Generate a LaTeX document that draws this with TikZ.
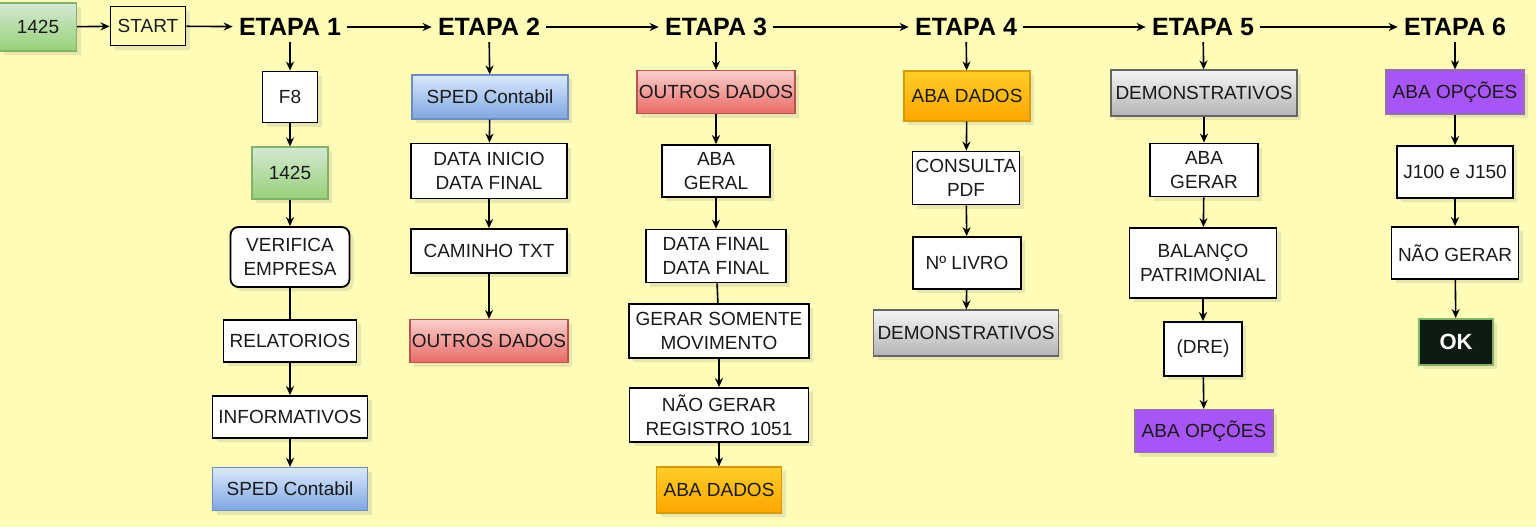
\documentclass[tikz,border=0pt]{standalone}
\usepackage{fontspec}
\setmainfont{Liberation Sans}
\usetikzlibrary{arrows.meta,shadows}
\definecolor{bg}{HTML}{FFFCB8}
\definecolor{txt}{HTML}{1A1A1A}
\definecolor{gtop}{HTML}{D5E8D4}\definecolor{gbot}{HTML}{97D077}\definecolor{gstr}{HTML}{82B366}
\definecolor{btop}{HTML}{DAE8FC}\definecolor{bbot}{HTML}{7EA6E0}\definecolor{bstr}{HTML}{6C8EBF}
\definecolor{rtop}{HTML}{F8CECC}\definecolor{rbot}{HTML}{EA6B66}\definecolor{rstr}{HTML}{B85450}
\definecolor{otop}{HTML}{FFCD28}\definecolor{obot}{HTML}{FFA500}\definecolor{ostr}{HTML}{D79B00}
\definecolor{stop}{HTML}{F5F5F5}\definecolor{sbot}{HTML}{B3B3B3}\definecolor{sstr}{HTML}{666666}
\definecolor{pfill}{HTML}{A855F7}\definecolor{pstr}{HTML}{9673A6}
\definecolor{okfill}{HTML}{0F1A12}
\tikzset{
  box/.style={draw=black, line width=0.9pt, fill=white, align=center, inner sep=1pt,
    font=\fontsize{9.5}{12}\selectfont, text=txt,
    drop shadow={opacity=0.18, shadow xshift=2pt, shadow yshift=-2pt}},
  plain/.style={box, fill=bg},
  gbox/.style={box, draw=gstr, line width=0.6pt, top color=gtop, bottom color=gbot},
  bbox/.style={box, draw=bstr, line width=0.6pt, top color=btop, bottom color=bbot},
  rbox/.style={box, draw=rstr, line width=0.6pt, top color=rtop, bottom color=rbot},
  obox/.style={box, draw=ostr, line width=0.6pt, top color=otop, bottom color=obot},
  sbox/.style={box, draw=sstr, line width=0.6pt, top color=stop, bottom color=sbot},
  pbox/.style={box, draw=pstr, line width=0.6pt, fill=pfill},
  okbox/.style={box, draw=gstr, line width=1pt, fill=okfill, text=white, font=\fontsize{11}{13}\selectfont\bfseries},
  etapa/.style={font=\fontsize{12.5}{15}\selectfont\bfseries, text=black, inner sep=3pt},
  arr/.style={draw=black, line width=0.8pt, -{Stealth[open,length=4.5pt,width=4pt]}},
  ln/.style={draw=black, line width=0.8pt}
}
\begin{document}
\begin{tikzpicture}[x=0.5pt,y=-0.5pt]
\fill[bg] (0,0) rectangle (1536,527);
\useasboundingbox (0,0) rectangle (1536,527);

% top row
\node[gbox, minimum width=38.5pt, minimum height=24pt] (g0) at (38,27) {1425};
\node[plain, minimum width=37.5pt, minimum height=19.5pt] (start) at (148,26) {START};
\node[etapa] (e1) at (290,27) {ETAPA 1};
\node[etapa] (e2) at (489,27) {ETAPA 2};
\node[etapa] (e3) at (716,27) {ETAPA 3};
\node[etapa] (e4) at (966,27) {ETAPA 4};
\node[etapa] (e5) at (1203,27) {ETAPA 5};
\node[etapa] (e6) at (1455,27) {ETAPA 6};

% column 1
\node[box, minimum width=27.5pt, minimum height=25.5pt] (f8) at (290,97) {F8};
\node[gbox, minimum width=38pt, minimum height=26pt] (g1) at (290,173) {1425};
\node[box, minimum width=59.5pt, minimum height=30pt, rounded corners=4pt] (ver) at (290,257) {VERIFICA\\EMPRESA};
\node[box, minimum width=66.5pt, minimum height=21pt] (rel) at (290,341) {RELATORIOS};
\node[box, minimum width=77.5pt, minimum height=21pt] (inf) at (290,417) {INFORMATIVOS};
\node[bbox, minimum width=77.5pt, minimum height=21.5pt] (sp1) at (290,489) {SPED Contabil};

% column 2
\node[bbox, minimum width=78pt, minimum height=22pt] (sp2) at (490,97) {SPED Contabil};
\node[box, minimum width=78pt, minimum height=27.5pt] (dat) at (489,171) {DATA INICIO\\DATA FINAL};
\node[box, minimum width=78pt, minimum height=22pt] (cam) at (489,251) {CAMINHO TXT};
\node[rbox, minimum width=78pt, minimum height=21.5pt] (out1) at (489,341) {OUTROS DADOS};

% column 3
\node[rbox, minimum width=78pt, minimum height=21.5pt] (out2) at (716,92) {OUTROS DADOS};
\node[box, minimum width=54pt, minimum height=26pt] (abag) at (716,171) {ABA\\GERAL};
\node[box, minimum width=70pt, minimum height=26.5pt] (dff) at (716,256) {DATA FINAL\\DATA FINAL};
\node[box, minimum width=90pt, minimum height=27pt] (ger) at (719,331) {GERAR SOMENTE\\MOVIMENTO};
\node[box, minimum width=89.5pt, minimum height=27pt] (nao1) at (719,415) {NÃO GERAR\\REGISTRO 1051};
\node[obox, minimum width=62.5pt, minimum height=23pt] (abd1) at (719,490) {ABA DADOS};

% column 4
\node[obox, minimum width=63pt, minimum height=25pt] (abd2) at (967,96) {ABA DADOS};
\node[box, minimum width=53.5pt, minimum height=26.5pt] (pdf) at (966,178) {CONSULTA\\PDF};
\node[box, minimum width=54pt, minimum height=26pt] (liv) at (967,263) {Nº LIVRO};
\node[sbox, minimum width=92.5pt, minimum height=23pt] (dem1) at (966,333) {DEMONSTRATIVOS};

% column 5
\node[sbox, minimum width=93pt, minimum height=23pt] (dem2) at (1204,93) {DEMONSTRATIVOS};
\node[box, minimum width=54pt, minimum height=26.5pt] (abge) at (1204,170) {ABA\\GERAR};
\node[box, minimum width=73.5pt, minimum height=35pt] (bal) at (1203,263) {BALANÇO\\PATRIMONIAL};
\node[box, minimum width=39pt, minimum height=27pt] (dre) at (1203,349) {(DRE)};
\node[pbox, minimum width=69pt, minimum height=21.5pt] (op1) at (1204,431) {ABA OPÇÕES};

% column 6
\node[pbox, minimum width=69pt, minimum height=22pt] (op2) at (1455,92) {ABA OPÇÕES};
\node[box, minimum width=58pt, minimum height=26pt] (jj) at (1455,172) {J100 e J150};
\node[box, minimum width=63.5pt, minimum height=26pt] (nao2) at (1455,253) {NÃO GERAR};
\node[okbox, minimum width=37pt, minimum height=23pt] (ok) at (1456,342) {OK};

% top connectors
\draw[arr] (g0) -- (start);
\draw[arr] (start) -- (e1);
\draw[arr] (e1) -- (e2);
\draw[arr] (e2) -- (e3);
\draw[arr] (e3) -- (e4);
\draw[arr] (e4) -- (e5);
\draw[arr] (e5) -- (e6);

% column connectors
\draw[arr] (e1) -- (f8);
\draw[arr] (f8) -- (g1);
\draw[arr] (g1) -- (ver);
\draw[ln] (ver) -- (rel);
\draw[arr] (rel) -- (inf);
\draw[arr] (inf) -- (sp1);

\draw[arr] (e2) -- (sp2);
\draw[arr] (sp2) -- (dat);
\draw[arr] (dat) -- (cam);
\draw[arr] (cam) -- (out1);

\draw[arr] (e3) -- (out2);
\draw[arr] (out2) -- (abag);
\draw[arr] (abag) -- (dff);
\draw[ln] (dff) -- (ger);
\draw[arr] (ger) -- (nao1);
\draw[arr] (nao1) -- (abd1);

\draw[arr] (e4) -- (abd2);
\draw[arr] (abd2) -- (pdf);
\draw[arr] (pdf) -- (liv);
\draw[arr] (liv) -- (dem1);

\draw[arr] (e5) -- (dem2);
\draw[arr] (dem2) -- (abge);
\draw[arr] (abge) -- (bal);
\draw[arr] (bal) -- (dre);
\draw[arr] (dre) -- (op1);

\draw[arr] (e6) -- (op2);
\draw[arr] (op2) -- (jj);
\draw[arr] (jj) -- (nao2);
\draw[arr] (nao2) -- (ok);
\end{tikzpicture}
\end{document}
